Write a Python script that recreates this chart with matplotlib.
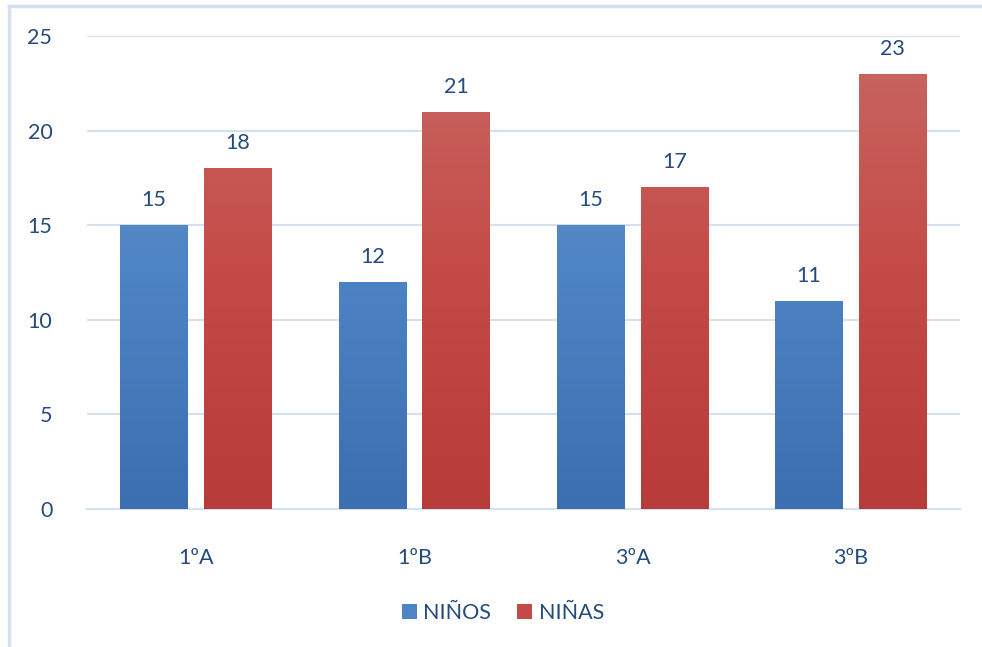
import numpy as np
import matplotlib
matplotlib.use('Agg')
import matplotlib.pyplot as plt
from matplotlib.colors import LinearSegmentedColormap
from matplotlib.patches import Rectangle

plt.rcParams['font.family'] = ['Lato', 'DejaVu Sans']

grupos = ['1ºA', '1ºB', '3ºA', '3ºB']
ninos = [15, 12, 15, 11]
ninas = [18, 21, 17, 23]

TXT = '#254A7C'
GRID = '#D5E1F1'
cmap_blue = LinearSegmentedColormap.from_list('b', ['#3C6EB0', '#4D84C5', '#6C93C8'])
cmap_red = LinearSegmentedColormap.from_list('r', ['#B73B39', '#C44A47', '#C86862'])

fig = plt.figure(figsize=(9.82, 6.47), dpi=100)
ax = fig.add_axes([0.0886, 0.2133, 0.889, 0.7311])

x = np.arange(len(grupos))
w = 0.311
off = 0.192
FS = 15.5
ax.set_xlim(-0.5, 3.5)
ax.set_ylim(0, 25)

grad = np.linspace(0, 1, 256).reshape(-1, 1)


def gbar(xc, h, cmap):
    r = Rectangle((xc - w / 2, 0), w, h, facecolor='none', edgecolor='none', zorder=3)
    ax.add_patch(r)
    im = ax.imshow(grad, cmap=cmap, origin='lower', aspect='auto',
                   extent=[xc - w / 2, xc + w / 2, 0, 25], zorder=3)
    im.set_clip_path(r)


for i in range(len(grupos)):
    gbar(x[i] - off, ninos[i], cmap_blue)
    gbar(x[i] + off, ninas[i], cmap_red)
    ax.annotate(str(ninos[i]), (x[i] - off, ninos[i]), xytext=(0, 25), textcoords='offset pixels',
                ha='center', va='center', fontsize=FS, color=TXT)
    ax.annotate(str(ninas[i]), (x[i] + off, ninas[i]), xytext=(0, 25), textcoords='offset pixels',
                ha='center', va='center', fontsize=FS, color=TXT)

ax.set_xlim(-0.5, 3.5)
ax.set_ylim(0, 25)
ax.set_yticks([0, 5, 10, 15, 20, 25])
ax.set_xticks(x)
ax.set_xticklabels(grupos)
ax.grid(axis='y', color=GRID, lw=1.5, zorder=0)
ax.set_axisbelow(True)
for s in ['top', 'right', 'left']:
    ax.spines[s].set_visible(False)
ax.spines['bottom'].set_color(GRID)
ax.spines['bottom'].set_linewidth(1.5)
ax.tick_params(axis='both', length=0, labelsize=FS, labelcolor=TXT)
ax.tick_params(axis='y', pad=25)
ax.tick_params(axis='x', pad=28)

# legend
hb = Rectangle((0, 0), 1, 1, facecolor='#4D84C5')
hr = Rectangle((0, 0), 1, 1, facecolor='#C44A47')
fig.legend([hb, hr], ['NIÑOS', 'NIÑAS'], loc='center', bbox_to_anchor=(0.512, 0.052),
           ncol=2, frameon=False, fontsize=FS, labelcolor=TXT, handlelength=0.7,
           handleheight=0.7, handletextpad=0.3, columnspacing=1.2)

# outer frame (left and top only visible)
fig.add_artist(plt.Line2D([9 / 982, 9 / 982], [0, 1 - 6 / 647], transform=fig.transFigure,
                          color=GRID, lw=2.5))
fig.add_artist(plt.Line2D([9 / 982, 1], [1 - 6 / 647, 1 - 6 / 647], transform=fig.transFigure,
                          color=GRID, lw=2.5))

fig.savefig('out.png', dpi=100)
